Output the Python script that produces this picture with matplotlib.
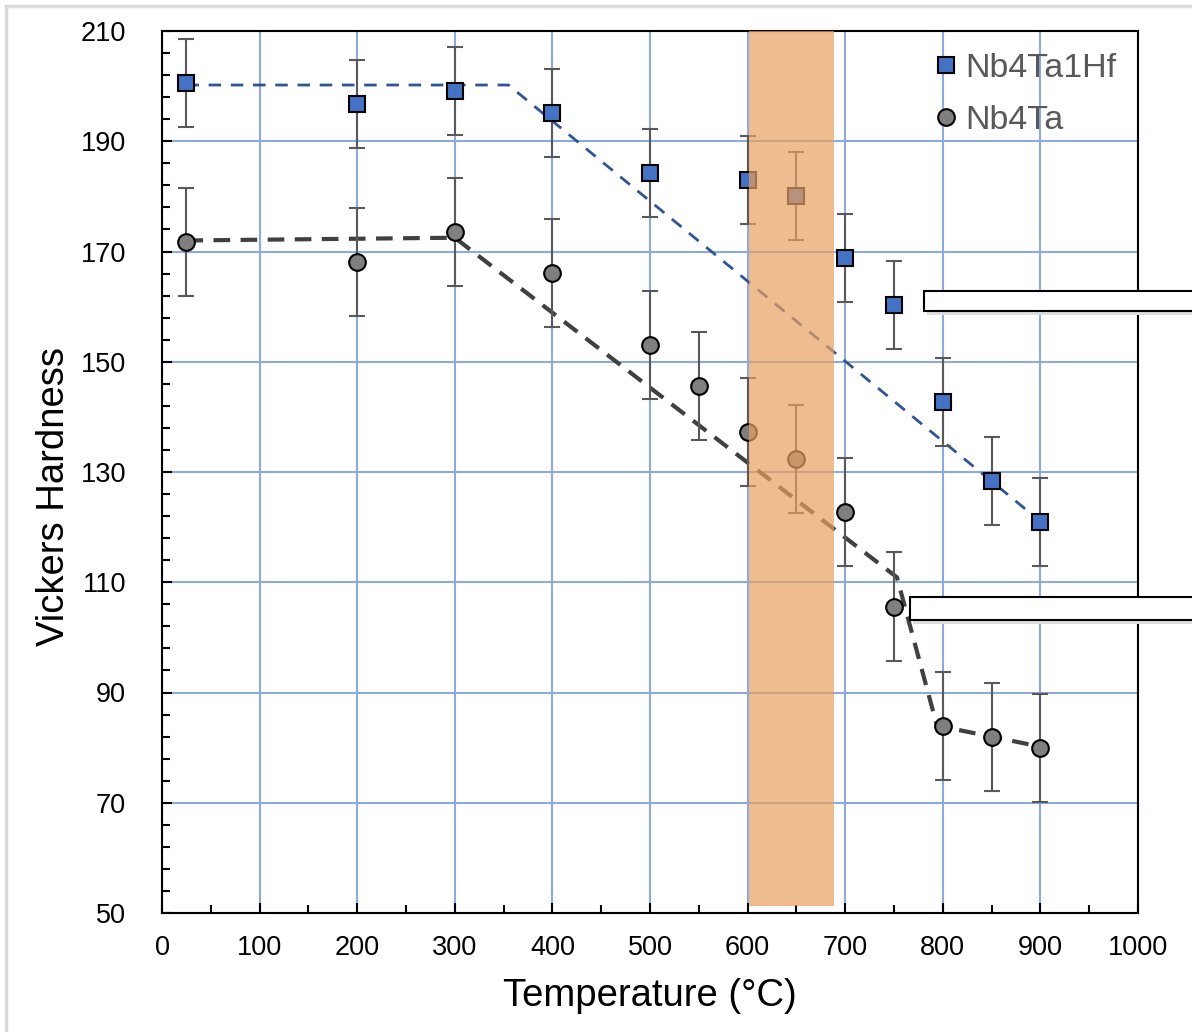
import numpy as np
import matplotlib
matplotlib.use("Agg")
from matplotlib import pyplot as plt
from matplotlib.patches import Rectangle
from matplotlib.lines import Line2D
from matplotlib.ticker import MultipleLocator, FixedLocator

# Nb4Ta1Hf
hf_temp = [25, 200, 300, 400, 500, 600, 650, 700, 750, 800, 850, 900]
hf_hv = [200.6, 196.8, 199.1, 195.1, 184.2, 183.0, 180.0, 168.8, 160.3, 142.7, 128.3, 120.9]
hf_err = [8, 8, 8, 8, 8, 8, 8, 8, 8, 8, 8, 8]
hf_trend_x = [25, 355, 890]
hf_trend_y = [200.2, 200.2, 122.5]

# Nb4Ta
ta_temp = [25, 200, 300, 400, 500, 550, 600, 650, 700, 750, 800, 850, 900]
ta_hv = [171.7, 168.1, 173.5, 166.1, 153.0, 145.6, 137.2, 132.3, 122.7, 105.6, 83.9, 82.0, 79.9]
ta_err = [9.8] * 13
ta_trend_x = [25, 300, 753, 794, 905]
ta_trend_y = [172.0, 172.5, 110.9, 84.0, 80.0]

y_ticks = [50, 70, 90, 110, 130, 150, 170, 190, 210]
span_lo, span_hi = 601, 689

def draw():
    fig = plt.figure(figsize=(11.92, 10.32), dpi=100)
    plt.rcParams['font.family'] = ['Liberation Sans', 'DejaVu Sans']
    ax = fig.add_axes([162 / 1192, 1 - 913 / 1032, (1138 - 162) / 1192, (913 - 31) / 1032])

    ax.grid(True, color="#8EA9DB", linewidth=1.5, zorder=0)
    ax.set_axisbelow(True)

    ax.plot(hf_trend_x, hf_trend_y, ls=(0, (4.5, 3.5)), color="#2F5597", lw=2, zorder=3)
    ax.plot(ta_trend_x, ta_trend_y, ls=(0, (4, 2.5)), color="#404040", lw=3, zorder=3)

    ax.errorbar(hf_temp, hf_hv, yerr=hf_err, fmt="s", ms=12, mfc="#4472C4", mec="black",
                mew=1.5, ecolor="#595959", elinewidth=1.5, capsize=6, capthick=1.5, zorder=4)
    ax.errorbar(ta_temp, ta_hv, yerr=ta_err, fmt="o", ms=12, mfc="#7F7F7F", mec="black",
                mew=1.5, ecolor="#595959", elinewidth=1.5, capsize=6, capthick=1.5, zorder=4)

    ax.axvspan(span_lo, span_hi, ymin=(51.2 - 50) / 160, ymax=1, color="#E9A060",
               alpha=0.7, lw=0, zorder=5)

    ax.set_xlim(0, 1000)
    ax.set_ylim(50, 210)
    ax.xaxis.set_major_locator(MultipleLocator(100))
    ax.xaxis.set_minor_locator(MultipleLocator(50))
    ax.yaxis.set_major_locator(FixedLocator(y_ticks))
    ax.yaxis.set_minor_locator(MultipleLocator(4, offset=2))
    ax.tick_params(which="both", direction="in", width=1.5, labelsize=19.5, colors="black")
    ax.tick_params(which="major", length=7)
    ax.tick_params(axis="x", which="major", pad=16)
    ax.tick_params(axis="y", which="major", pad=26)
    ax.tick_params(which="minor", length=6)
    for s in ax.spines.values():
        s.set_linewidth(1.5)
        s.set_color("black")

    ax.set_xlabel("Temperature (\u00b0C)", fontsize=27.5)
    ax.set_ylabel("Vickers Hardness", fontsize=27.5)
    ax.xaxis.set_label_coords(0.5, -(978 - 913) / 882, transform=ax.transAxes)
    ax.yaxis.set_label_coords(-(162 - 72) / 976, 0.5 - 25 / 882, transform=ax.transAxes)

    handles = [
        Line2D([], [], ls="none", marker="s", ms=12, mfc="#4472C4", mec="black", mew=1.5),
        Line2D([], [], ls="none", marker="o", ms=12, mfc="#7F7F7F", mec="black", mew=1.5),
    ]
    ax.legend(handles, ["Nb4Ta1Hf", "Nb4Ta"], loc="upper right", fontsize=24.5,
              frameon=False, handletextpad=0.05, handlelength=1.0, labelspacing=0.6,
              borderaxespad=0.35, borderpad=0.3, labelcolor="#595959")

    # leftover annotation boxes on the right edge
    for (x0, y0, x1, y1) in [(924, 291, 1200, 311), (910, 597, 1200, 620)]:
        shadow = Rectangle((x0 + 3, 1032 - y1 - 4), x1 - x0, y1 - y0, transform=None,
                           facecolor="#DDDDDD", edgecolor="none", zorder=9)
        fig.patches.append(shadow)
        r = Rectangle((x0, 1032 - y1), x1 - x0, y1 - y0, transform=None,
                      facecolor="white", edgecolor="black", lw=1.5, zorder=10)
        fig.patches.append(r)

    # light frame of the page
    frame = Rectangle((6, -10), 1300, 1032 - 6 + 10, transform=None, facecolor="none",
                      edgecolor="#D9D9D9", lw=2.5, zorder=1)
    fig.patches.append(frame)

    fig.savefig("out.png", dpi=100)

if __name__ == "__main__":
    draw()
